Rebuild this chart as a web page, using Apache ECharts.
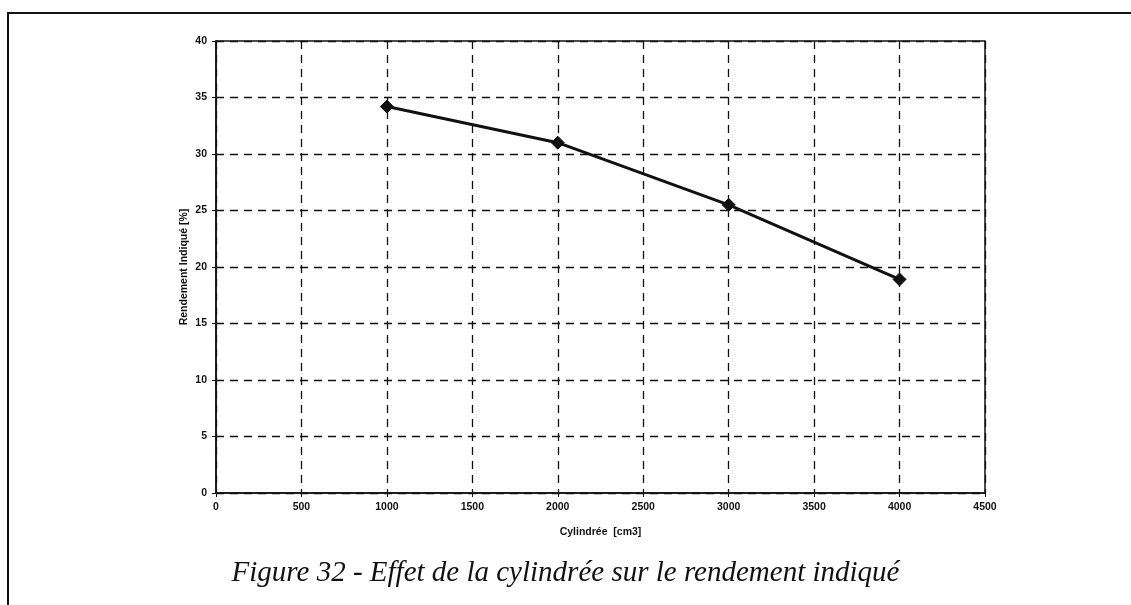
<!DOCTYPE html>
<html>
<head>
<meta charset="utf-8">
<script src="https://cdn.jsdelivr.net/npm/echarts@6/dist/echarts.min.js"></script>
<style>
  html, body { margin: 0; padding: 0; background: #fff; }
  #frame {
    position: absolute; left: 7px; top: 12px; width: 1124px; height: 593px;
    border-left: 2px solid #111; border-top: 2px solid #111; box-sizing: border-box;
  }
  #chart { position: absolute; left: 0; top: 0; width: 1131px; height: 605px; }
</style>
</head>
<body>
<div id="frame"></div>
<div id="chart"></div>
<script>
// Cylindrée [cm3] vs rendement indiqué [%]
const cylindree = [1000, 2000, 3000, 4000];
const rendement = [34.2, 31.0, 25.5, 18.9];

const chart = echarts.init(document.getElementById('chart'));

const gridDash = { color: '#111', width: 1.3, type: [8, 6] };
const labelFont = { color: '#111', fontFamily: 'Liberation Sans, Arial', fontWeight: 'bold', fontSize: 10.5 };
const plain = v => String(v);

chart.setOption({
  animation: false,
  title: {
    text: 'Figure 32 - Effet de la cylindrée sur le rendement indiqué',
    left: 'center',
    top: 554,
    textStyle: {
      fontFamily: 'Liberation Serif, Times New Roman',
      fontStyle: 'italic',
      fontWeight: 'normal',
      fontSize: 29,
      color: '#111'
    }
  },
  grid: {
    left: 216, right: 146, top: 41, bottom: 112,
    show: true, borderColor: '#111', borderWidth: 1.5
  },
  xAxis: {
    type: 'value',
    min: 0, max: 4500, interval: 500,
    name: 'Cylindrée  [cm3]',
    nameLocation: 'middle',
    nameGap: 34,
    nameTextStyle: labelFont,
    axisLine: { lineStyle: { color: '#111', width: 1.5 } },
    axisTick: { show: true, length: 4, lineStyle: { color: '#111' } },
    axisLabel: Object.assign({ margin: 9, formatter: plain }, labelFont),
    splitLine: { show: true, lineStyle: gridDash }
  },
  yAxis: {
    type: 'value',
    min: 0, max: 40, interval: 5,
    name: 'Rendement Indiqué [%]',
    nameLocation: 'middle',
    nameGap: 26,
    nameMoveOverlap: false,
    nameTextStyle: labelFont,
    axisLine: { show: true, lineStyle: { color: '#111', width: 1.5 } },
    axisTick: { show: true, length: 4, lineStyle: { color: '#111' } },
    axisLabel: Object.assign({ margin: 9, formatter: plain }, labelFont),
    splitLine: { show: true, lineStyle: gridDash }
  },
  series: [{
    type: 'line',
    data: cylindree.map((c, i) => [c, rendement[i]]),
    symbol: 'diamond',
    symbolSize: 13,
    lineStyle: { color: '#111', width: 3 },
    itemStyle: { color: '#111', borderColor: '#111' }
  }]
});
</script>
</body>
</html>
